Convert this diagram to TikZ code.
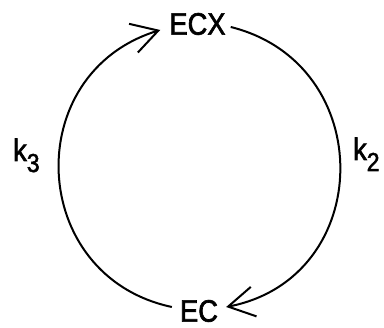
\documentclass[tikz,border=0pt]{standalone}
\usepackage{fontspec}
\newfontfamily\lettering[FakeStretch=0.88,FakeBold=2]{Liberation Sans}
\usepackage{tikz}
\usetikzlibrary{arrows.meta,positioning}

\begin{document}
\begin{tikzpicture}[x=1pt,y=1pt,
  state/.style={inner sep=0pt,font=\lettering\fontsize{31}{34}\selectfont},
  rate/.style={inner sep=0pt,anchor=base west,font=\lettering\fontsize{31}{34}\selectfont},
  flow/.style={line width=2pt,-{Straight Barb[length=26pt,width=30pt,line width=2pt]}}]
\useasboundingbox (0,0) rectangle (384,328);

%% ---------- species ----------
\node[state](ECX) at (197.5,304){ECX};
\node[state](EC) at (199,17){EC};

%% ---------- rate constants ----------
\node[rate](k3) at (13,167){k\raisebox{-11pt}{\fontsize{26}{28}\selectfont 3}};
\node[rate](k2) at (353,168){k\raisebox{-11pt}{\fontsize{26}{28}\selectfont 2}};

%% ---------- cycle ----------
\draw[flow] ([xshift=5pt,yshift=-3pt]ECX.east)
  to[out=-14,in=11,looseness=1.39] ([xshift=8pt,yshift=4pt]EC.east);
\draw[flow] ([xshift=-8pt,yshift=4pt]EC.west)
  to[out=168,in=197,looseness=1.36] ([xshift=-9pt,yshift=-6pt]ECX.west);

\end{tikzpicture}
\end{document}
